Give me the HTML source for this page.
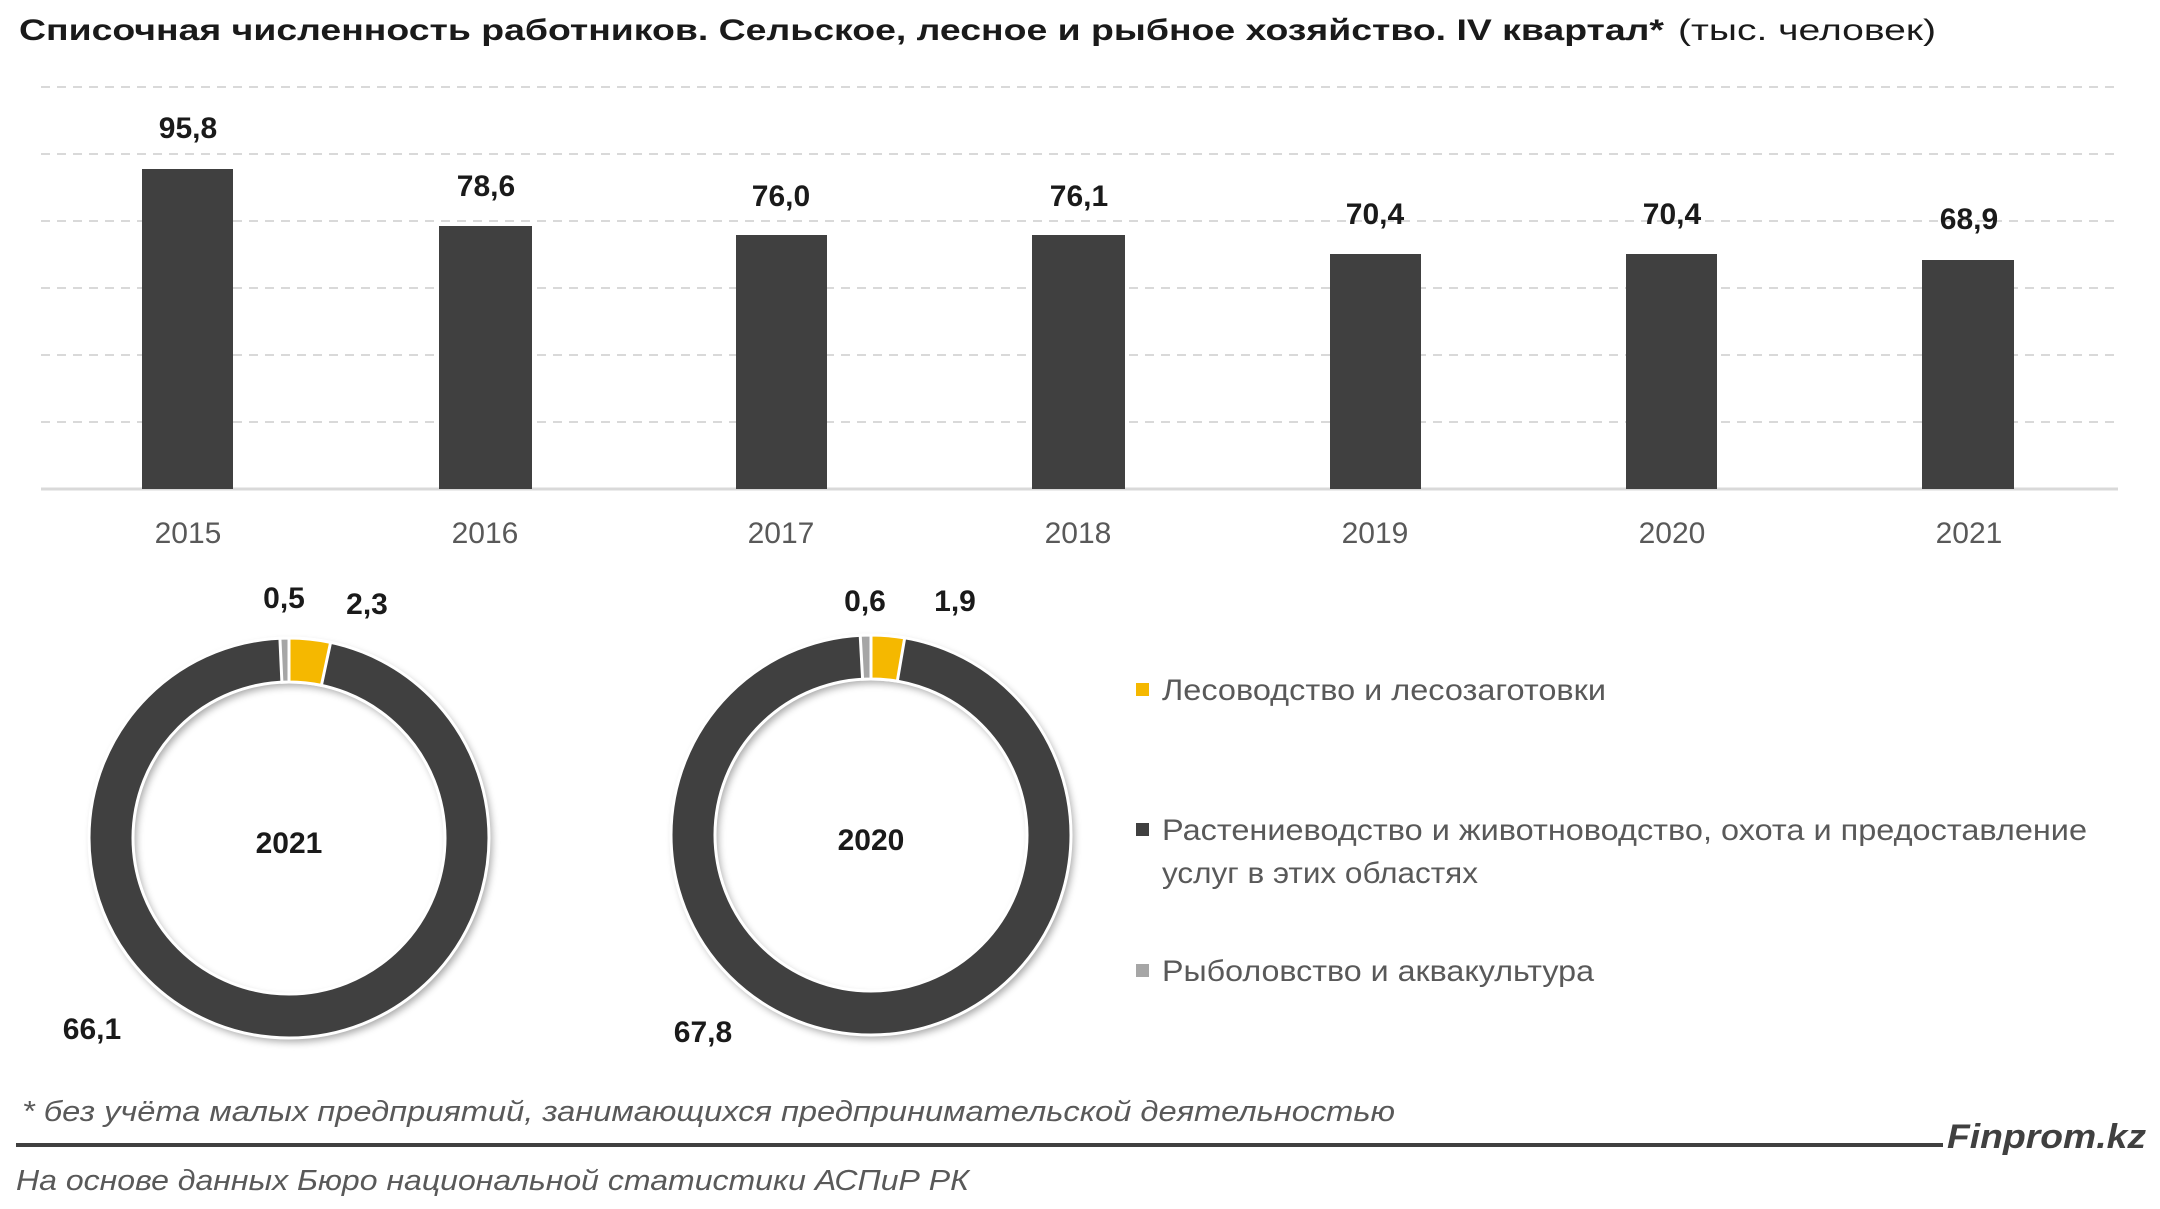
<!DOCTYPE html>
<html><head><meta charset="utf-8"><style>
html,body{margin:0;padding:0;background:#fff;}
svg{display:block;}
text{font-family:"Liberation Sans",sans-serif;}
</style></head><body>
<svg width="2160" height="1209" viewBox="0 0 2160 1209" xmlns="http://www.w3.org/2000/svg">
<defs>
<filter id="sh" x="-20%" y="-20%" width="140%" height="140%"><feGaussianBlur in="SourceAlpha" stdDeviation="4"/><feOffset dx="3" dy="4"/><feComponentTransfer><feFuncA type="linear" slope="0.35"/></feComponentTransfer><feMerge><feMergeNode/><feMergeNode in="SourceGraphic"/></feMerge></filter>
</defs>
<text x="19" y="40" font-size="30" font-weight="bold" fill="#1a1a1a" textLength="1645" lengthAdjust="spacingAndGlyphs">Списочная численность работников. Сельское, лесное и рыбное хозяйство. IV квартал*</text>
<text x="1678" y="40" font-size="30" fill="#1a1a1a" textLength="258" lengthAdjust="spacingAndGlyphs">(тыс. человек)</text>
<g stroke="#d9d9d9" stroke-width="2" stroke-dasharray="9,7">
<line x1="41" y1="87" x2="2118" y2="87"/>
<line x1="41" y1="154" x2="2118" y2="154"/>
<line x1="41" y1="221" x2="2118" y2="221"/>
<line x1="41" y1="288" x2="2118" y2="288"/>
<line x1="41" y1="355" x2="2118" y2="355"/>
<line x1="41" y1="422" x2="2118" y2="422"/>
</g>
<line x1="41" y1="489" x2="2118" y2="489" stroke="#d9d9d9" stroke-width="3"/>
<g fill="#404040">
<rect x="142" y="169" width="91" height="320"/>
<rect x="439" y="226" width="93" height="263"/>
<rect x="736" y="235" width="91" height="254"/>
<rect x="1032" y="235" width="93" height="254"/>
<rect x="1330" y="254" width="91" height="235"/>
<rect x="1626" y="254" width="91" height="235"/>
<rect x="1922" y="260" width="92" height="229"/>
</g>
<g font-size="30" font-weight="bold" fill="#1a1a1a" text-anchor="middle">
<text x="188" y="138">95,8</text>
<text x="486" y="196">78,6</text>
<text x="781" y="206">76,0</text>
<text x="1079" y="206">76,1</text>
<text x="1375" y="224">70,4</text>
<text x="1672" y="224">70,4</text>
<text x="1969" y="229">68,9</text>
</g>
<g font-size="30" fill="#595959" text-anchor="middle">
<text x="188" y="543">2015</text>
<text x="485" y="543">2016</text>
<text x="781" y="543">2017</text>
<text x="1078" y="543">2018</text>
<text x="1375" y="543">2019</text>
<text x="1672" y="543">2020</text>
<text x="1969" y="543">2021</text>
</g>
<!-- donut 2021 -->
<g filter="url(#sh)">
<circle cx="289" cy="838" r="178" fill="none" stroke="#404040" stroke-width="44"/>
</g>
<circle cx="289" cy="838" r="156" fill="none" stroke="#fff" stroke-width="3"/>
<circle cx="289" cy="838" r="200" fill="none" stroke="#fff" stroke-width="3"/>
<path d="M289,638 A200,200 0 0 1 330.6,642.4 L321.4,685.4 A156,156 0 0 0 289,682 Z" fill="#f5b800" stroke="#fff" stroke-width="3"/>
<path d="M279.9,638.2 A200,200 0 0 1 289,638 L289,682 A156,156 0 0 0 281.9,682.2 Z" fill="#a6a6a6" stroke="#fff" stroke-width="3"/>
<!-- donut 2020 -->
<g filter="url(#sh)">
<circle cx="871" cy="835" r="178" fill="none" stroke="#404040" stroke-width="44"/>
</g>
<circle cx="871" cy="835" r="156" fill="none" stroke="#fff" stroke-width="3"/>
<circle cx="871" cy="835" r="200" fill="none" stroke="#fff" stroke-width="3"/>
<path d="M871,635 A200,200 0 0 1 904.7,637.9 L897.3,681.2 A156,156 0 0 0 871,679 Z" fill="#f5b800" stroke="#fff" stroke-width="3"/>
<path d="M860.2,635.3 A200,200 0 0 1 871,635 L871,679 A156,156 0 0 0 862.6,679.2 Z" fill="#a6a6a6" stroke="#fff" stroke-width="3"/>
<g font-size="30" font-weight="bold" fill="#1a1a1a" text-anchor="middle">
<text x="284" y="608">0,5</text>
<text x="367" y="614">2,3</text>
<text x="92" y="1039">66,1</text>
<text x="289" y="853">2021</text>
<text x="865" y="611">0,6</text>
<text x="955" y="611">1,9</text>
<text x="703" y="1042">67,8</text>
<text x="871" y="850">2020</text>
</g>
<rect x="1136" y="683" width="13" height="13" fill="#f5b800"/>
<rect x="1136" y="823" width="13" height="13" fill="#404040"/>
<rect x="1136" y="964" width="13" height="13" fill="#a6a6a6"/>
<g font-size="30" fill="#595959">
<text x="1162" y="700" textLength="444" lengthAdjust="spacingAndGlyphs">Лесоводство и лесозаготовки</text>
<text x="1162" y="840" textLength="925" lengthAdjust="spacingAndGlyphs">Растениеводство и животноводство, охота и предоставление</text>
<text x="1162" y="883" textLength="316" lengthAdjust="spacingAndGlyphs">услуг в этих областях</text>
<text x="1162" y="981" textLength="432" lengthAdjust="spacingAndGlyphs">Рыболовство и аквакультура</text>
</g>
<text x="22" y="1121" font-size="29" font-style="italic" fill="#595959" textLength="1373" lengthAdjust="spacingAndGlyphs">* без учёта малых предприятий, занимающихся предпринимательской деятельностью</text>
<line x1="16" y1="1145" x2="1943" y2="1145" stroke="#404040" stroke-width="4"/>
<text x="1947" y="1148" font-size="34" font-style="italic" font-weight="bold" fill="#404040" textLength="199" lengthAdjust="spacingAndGlyphs">Finprom.kz</text>
<text x="16" y="1190" font-size="29" font-style="italic" fill="#595959" textLength="953" lengthAdjust="spacingAndGlyphs">На основе данных Бюро национальной статистики АСПиР РК</text>
</svg>
</body></html>
